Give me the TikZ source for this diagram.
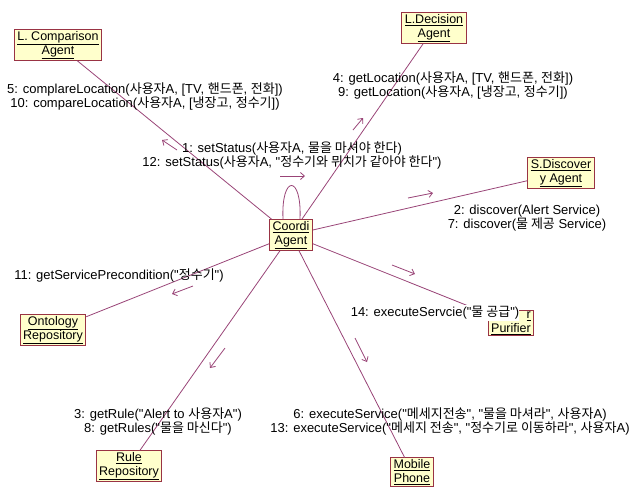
\documentclass[tikz,border=0pt]{standalone}
\usepackage{fontspec}
% plain family: no TeX ligature mapping, so " stays a straight quote
\newfontfamily\lsans{Liberation Sans}
\newfontfamily\krfont[Scale=1.0]{Noto Sans CJK KR}
\newcommand{\K}[1]{{\krfont #1}}
\usetikzlibrary{arrows.meta}

\definecolor{boxfill}{HTML}{FFFFCC}
\definecolor{boxline}{HTML}{993344}
\definecolor{linkcol}{HTML}{994477}

\tikzset{
  obj/.style={draw=boxline, fill=boxfill, line width=0.9pt, align=center,
    inner xsep=3pt, inner ysep=1.5pt, font=\lsans\fontsize{12.5}{14}\selectfont},
  conn/.style={draw=linkcol, line width=0.8pt},
  msg/.style={draw=linkcol, line width=0.8pt, -{Straight Barb[length=4pt,width=7pt]}},
  lbl/.style={align=center, inner sep=0pt, font=\lsans\fontsize{13}{14}\selectfont}
}

\begin{document}
\begin{tikzpicture}[x=1pt,y=-1pt]
\path[use as bounding box] (0,0) rectangle (633,488);

% objects
\node[obj] (coordi) at (291,235) {\underline{Coordi}\\\underline{Agent}};
\node[obj] (lcomp)  at (58,45)   {\underline{L. Comparison}\\\underline{Agent}};
\node[obj] (ldec)   at (434,28)  {\underline{L.Decision}\\\underline{Agent}};
\node[obj] (sdisc)  at (561,173) {\underline{S.Discover}\\\underline{y Agent}};
\node[obj] (onto)   at (53,330)  {\underline{Ontology}\\\underline{Repository}};
\node[obj, align=right] (purif) at (511,323) {\underline{r}\\\underline{Purifier}};
\node[obj] (rule)   at (129,466) {\underline{Rule}\\\underline{Repository}};
\node[obj] (mobile) at (412,472) {\underline{Mobile}\\\underline{Phone}};

% links
\draw[conn] (coordi) -- (lcomp);
\draw[conn] (coordi) -- (ldec);
\draw[conn] (coordi) -- (sdisc);
\draw[conn] (coordi) -- (onto);
\draw[conn] (coordi) -- (purif);
\draw[conn] (coordi) -- (rule);
\draw[conn] (coordi) -- (mobile);
\coordinate (loopA) at ([xshift=-8pt]coordi.north);
\coordinate (loopB) at ([xshift=9pt]coordi.north);
\draw[conn] (loopA) .. controls +(-2,-45) and +(2,-45) .. (loopB);

% message direction arrows
\coordinate (m5s) at (177,150);  \coordinate (m5e) at (162,140);
\coordinate (m4s) at (353,130);  \coordinate (m4e) at (363,118);
\coordinate (m1s) at (280,176);  \coordinate (m1e) at (305,176);
\coordinate (m2s) at (408,198);  \coordinate (m2e) at (433,193);
\coordinate (m14s) at (392,265); \coordinate (m14e) at (415,274);
\coordinate (m11s) at (193,286); \coordinate (m11e) at (172,294);
\coordinate (m3s) at (225,348);  \coordinate (m3e) at (210,368);
\coordinate (m6s) at (355,338);  \coordinate (m6e) at (367,362);
\foreach \m in {m5,m4,m1,m2,m14,m11,m3,m6}
  \draw[msg] (\m s) -- (\m e);

% message labels
\node[lbl] (t5) at (145,96) {5: complareLocation(\K{사용자}A, [TV, \K{핸드폰}, \K{전화}])\\
  10: compareLocation(\K{사용자}A, [\K{냉장고}, \K{정수기}])};
\node[lbl] (t4) at (453,85) {4: getLocation(\K{사용자}A, [TV, \K{핸드폰}, \K{전화}])\\
  9: getLocation(\K{사용자}A, [\K{냉장고}, \K{정수기}])};
\node[lbl] (t1) at (292,155) {1: setStatus(\K{사용자}A, \K{물을 마셔야 한다})\\
  12: setStatus(\K{사용자}A, "\K{정수기와 뮈치가 같아야 한다}")};
\node[lbl] (t2) at (527,218) {2: discover(Alert Service)\\
  7: discover(\K{물 제공} Service)};
\node[lbl] (t11) at (119,275) {11: getServicePrecondition("\K{정수기}")};
\node[lbl, fill=white, inner ysep=1pt] (t14) at (435,313) {14: executeServcie("\K{물 공급}")};
\node[lbl] (t3) at (158,421) {3: getRule("Alert to \K{사용자}A")\\
  8: getRules("\K{물을 마신다}")};
\node[lbl] (t6) at (450,421) {6: executeService("\K{메세지전송}", "\K{물을 마셔라}", \K{사용자}A)\\
  13: executeService("\K{메세지 전송}", "\K{정수기로 이동하라}", \K{사용자}A)};
\end{tikzpicture}
\end{document}
